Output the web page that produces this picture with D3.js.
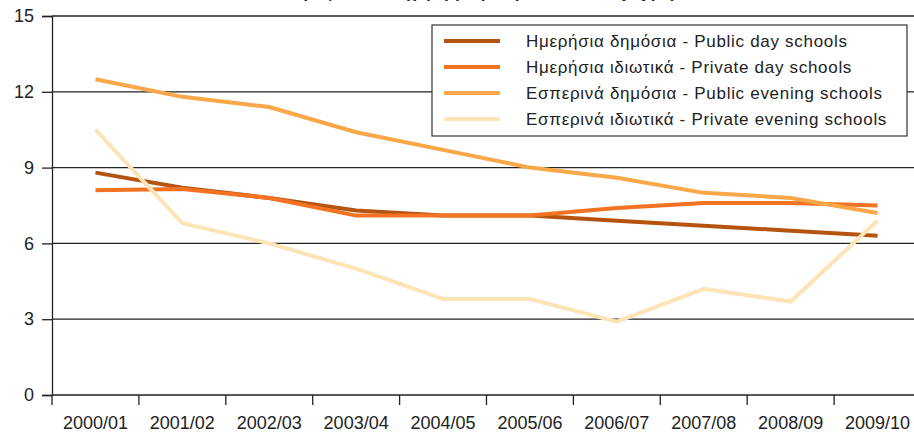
<!DOCTYPE html>
<html>
<head>
<meta charset="utf-8">
<script src="https://cdn.jsdelivr.net/npm/d3@7"></script>
<style>
  body { margin: 0; background: #fff; }
  svg { display: block; font-family: "Liberation Sans", Arial, sans-serif; }
</style>
</head>
<body>
<div class="chart"></div>
<script>
// school years on the x axis
var years = ["2000/01", "2001/02", "2002/03", "2003/04", "2004/05", "2005/06", "2006/07", "2007/08", "2008/09", "2009/10"];

// series names (legend)
var seriesNames = [
  "Ημερήσια δημόσια - Public day schools",
  "Ημερήσια ιδιωτικά - Private day schools",
  "Εσπερινά δημόσια - Public evening schools",
  "Εσπερινά ιδιωτικά - Private evening schools"
];

// values
var publicDay = [8.8, 8.2, 7.8, 7.3, 7.1, 7.1, 6.9, 6.7, 6.5, 6.3];
var privateDay = [8.1, 8.15, 7.8, 7.1, 7.1, 7.1, 7.4, 7.6, 7.6, 7.5];
var publicEvening = [12.5, 11.8, 11.4, 10.4, 9.7, 9.0, 8.6, 8.0, 7.8, 7.2];
var privateEvening = [10.5, 6.8, 6.0, 5.0, 3.8, 3.8, 2.9, 4.2, 3.7, 6.9];

var yTicks = [0, 3, 6, 9, 12, 15];

var colors = ["#b4540f", "#f37322", "#f9a748", "#fde4b6"];

var series = [publicDay, privateDay, publicEvening, privateEvening];

var width = 914, height = 434;

var svg = d3.select(".chart").append("svg")
  .attr("width", width).attr("height", height);

// title, cut off at the top edge like in the original
svg.append("text")
  .attr("x", 470).attr("y", -2)
  .attr("text-anchor", "middle")
  .attr("font-size", 17).attr("font-weight", "bold")
  .attr("fill", "#222")
  .text("Μαθητές ανά καθηγητή (Pupils per teacher by type)");

//x is a band scale, the points sit in the middle of each band
var x = d3.scaleBand().domain(years).range([52, 921]);

var y = d3.scaleLinear().domain([0, 15]).range([395, 16]);

// horizontal grid lines
svg.append("g").selectAll("line")
  .data(yTicks)
  .enter().append("line")
  .attr("x1", 52).attr("x2", width)
  .attr("y1", function(d) { return y(d); })
  .attr("y2", function(d) { return y(d); })
  .attr("stroke", "#222").attr("stroke-width", 1.3);

// y axis
var yAxis = d3.axisLeft(y).tickValues(yTicks).tickSize(10).tickPadding(8);
var yAxisGroup = svg.append("g")
  .attr("transform", "translate(52,0)")
  .call(yAxis);
yAxisGroup.select(".domain").attr("stroke", "#222").attr("stroke-width", 1.3);
yAxisGroup.selectAll(".tick line").attr("stroke", "#222").attr("stroke-width", 1.3);
yAxisGroup.selectAll("text")
  .attr("font-size", 18).attr("font-family", "Liberation Sans, Arial, sans-serif")
  .attr("fill", "#222");

// x axis: ticks between the categories
var xAxisGroup = svg.append("g");
xAxisGroup.selectAll("line")
  .data(years)
  .enter().append("line")
  .attr("x1", function(d) { return x(d); })
  .attr("x2", function(d) { return x(d); })
  .attr("y1", y(0)).attr("y2", y(0) + 10)
  .attr("stroke", "#222").attr("stroke-width", 1.3);

xAxisGroup.selectAll("text")
  .data(years)
  .enter().append("text")
  .attr("x", function(d) { return x(d) + x.bandwidth() / 2; })
  .attr("y", 429)
  .attr("text-anchor", "middle")
  .attr("font-size", 18)
  .attr("fill", "#222")
  .text(function(d) { return d; });

// the lines
var line = d3.line()
  .x(function(d, i) { return x(years[i]) + x.bandwidth() / 2; })
  .y(function(d) { return y(d); });

svg.append("g").selectAll("path")
  .data(series)
  .enter().append("path")
  .attr("d", function(d) { return line(d); })
  .attr("fill", "none")
  .attr("stroke", function(d, i) { return colors[i]; })
  .attr("stroke-width", 4);

// legend
var legend = svg.append("g").attr("transform", "translate(432,25)");

legend.append("rect")
  .attr("width", 475).attr("height", 111)
  .attr("fill", "#fff").attr("stroke", "#333").attr("stroke-width", 1.2);

var item = legend.selectAll("g.item")
  .data(seriesNames)
  .enter().append("g")
  .attr("class", "item")
  .attr("transform", function(d, i) { return "translate(0," + (16 + i * 26) + ")"; });

item.append("line")
  .attr("x1", 12).attr("x2", 68)
  .attr("stroke", function(d, i) { return colors[i]; })
  .attr("stroke-width", 4);

item.append("text")
  .attr("x", 94).attr("dy", "0.35em")
  .attr("font-size", 17)
  .attr("letter-spacing", 0.7)
  .attr("fill", "#222")
  .text(function(d) { return d; });
</script>
</body>
</html>
